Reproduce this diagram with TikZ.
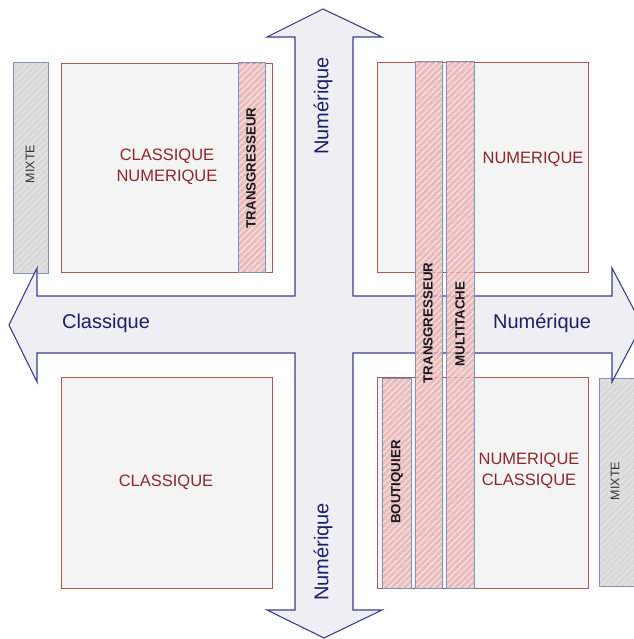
\documentclass[tikz,border=0pt]{standalone}
\usepackage{fontspec}
\setmainfont{Liberation Sans}
\usetikzlibrary{patterns.meta}

\definecolor{arrowfill}{HTML}{EFEFF3}
\definecolor{arrowline}{HTML}{3E3E8E}
\definecolor{boxred}{HTML}{B45656}
\definecolor{boxfill}{HTML}{F4F4F4}
\definecolor{labred}{HTML}{8E2828}
\definecolor{labblue}{HTML}{1E1E6C}
\definecolor{stripfill}{HTML}{E8AFAF}
\definecolor{stripline}{HTML}{8092B6}
\definecolor{mixfill}{HTML}{D9D9D9}

\tikzset{
  quad/.style={draw=boxred, line width=0.9pt, fill=boxfill, inner sep=0pt, outer sep=0pt},
  stripbox/.style={fill=stripfill, fill opacity=0.8, inner sep=0pt, outer sep=0pt,
    postaction={pattern={Lines[angle=45,distance=4.5pt,line width=0.9pt]}, pattern color=white!75!stripfill},
    postaction={draw=stripline, line width=1pt}},
  mixbox/.style={fill=mixfill, inner sep=0pt, outer sep=0pt,
    postaction={pattern={Lines[angle=45,distance=4.5pt,line width=0.9pt]}, pattern color=white!35!mixfill},
    postaction={draw=stripline, line width=1pt}},
  quadtext/.style={text=labred, font=\fontsize{16.5}{21}\selectfont, align=center},
  axistext/.style={text=labblue, font=\fontsize{20}{24}\selectfont},
  striptext/.style={text=black!90, font=\fontsize{13.3}{15}\selectfont\bfseries, rotate=90},
  mixtext/.style={text=black!80, font=\fontsize{12.5}{15}\selectfont, rotate=90},
}

\begin{document}
\begin{tikzpicture}[x=1pt, y=-1pt]
\useasboundingbox[fill=white] (0,0) rectangle (633,639);

% quadrant boxes
\node[quad, minimum width=211, minimum height=209] (tl) at (166.5,167.5) {};
\node[quad, minimum width=211, minimum height=210] (tr) at (482.5,167) {};
\node[quad, minimum width=211, minimum height=211] (bl) at (166.5,482.5) {};
\node[quad, minimum width=211, minimum height=211] (br) at (482.5,482.5) {};

% mixed strips at the sides
\node[mixbox, minimum width=35, minimum height=210] (mixl) at (30.5,168) {};
\node[mixbox, minimum width=41, minimum height=208] (mixr) at (619.5,482) {};

% four-way arrow
\draw[fill=arrowfill, draw=arrowline, line width=1.1pt, line join=miter]
  (323,9) -- (382,37) -- (353,37) -- (353,296) -- (612,296) -- (612,268)
  -- (642,325) -- (612,382) -- (612,353) -- (353,353) -- (353,610)
  -- (382,610) -- (324,638) -- (267,610) -- (295,610) -- (295,353)
  -- (37,353) -- (37,382) -- (9,325) -- (37,268) -- (37,296)
  -- (295,296) -- (295,37) -- (267,37) -- cycle;

% hatched strips
\node[stripbox, minimum width=27, minimum height=209] (s1) at (251.5,167.5) {};
\node[stripbox, minimum width=27, minimum height=526] (s2) at (428.5,325) {};
\node[stripbox, minimum width=28, minimum height=526] (s3) at (460,325) {};
\node[stripbox, minimum width=29, minimum height=210] (s4) at (396.5,483) {};

% quadrant labels
\node[quadtext] (ltl) at (167,167) {CLASSIQUE\\NUMERIQUE};
\node[quadtext] (ltr) at (533,159) {NUMERIQUE};
\node[quadtext] (lbl) at (166,482) {CLASSIQUE};
\node[quadtext] (lbr) at (529,471) {NUMERIQUE\\CLASSIQUE};

% axis labels
\node[axistext, rotate=90] (atop) at (323,106) {Numérique};
\node[axistext, rotate=90] (abot) at (323,552) {Numérique};
\node[axistext] (aleft) at (106,323) {Classique};
\node[axistext] (aright) at (542,323) {Numérique};

% strip labels
\node[striptext] (t1) at (251,168) {TRANSGRESSEUR};
\node[striptext] (t2) at (428,323) {TRANSGRESSEUR};
\node[striptext] (t3) at (460,324) {MULTITACHE};
\node[striptext] (t4) at (397,482) {BOUTIQUIER};
\node[mixtext] (m1) at (30,164) {MIXTE};
\node[mixtext] (m2) at (615,481) {MIXTE};
\end{tikzpicture}
\end{document}
